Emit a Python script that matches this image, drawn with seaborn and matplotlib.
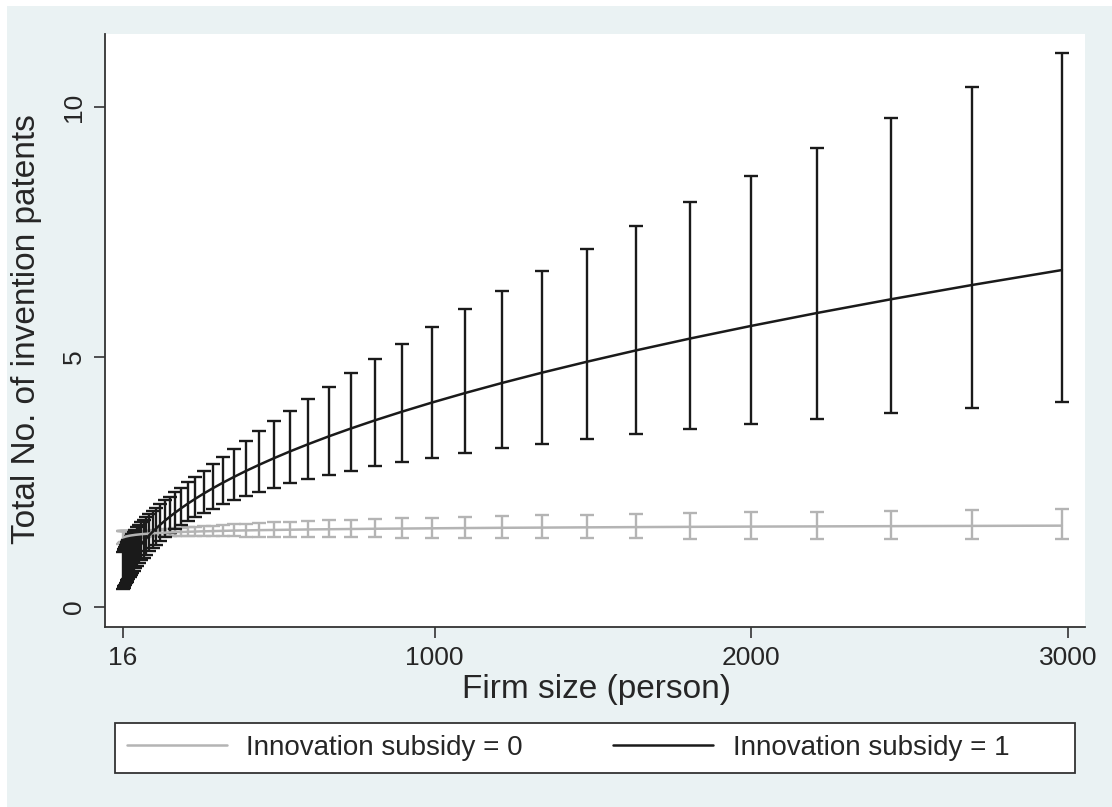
import numpy as np
import pandas as pd
import seaborn as sns
import matplotlib.pyplot as plt
from matplotlib.patches import Rectangle
from matplotlib.lines import Line2D

# firm size grid (persons)
firm_size = [16.4, 18.2, 20.1, 22.2, 24.5, 27.1, 30.0, 33.1, 36.6, 40.4,
             44.7, 49.4, 54.6, 60.3, 66.7, 73.7, 81.5, 90.0, 99.5, 110.0,
             121.5, 134.3, 148.4, 164.0, 181.3, 200.3, 221.4, 244.7, 270.4, 298.9,
             330.3, 365.0, 403.4, 445.9, 492.7, 544.6, 601.8, 665.1, 735.1, 812.4,
             897.8, 992.3, 1096.6, 1212.0, 1339.4, 1480.3, 1636.0, 1808.0, 1998.2, 2208.3,
             2440.6, 2697.3, 2981.0]

# Innovation subsidy = 0 (grey)
sub0_mean = [1.392, 1.396, 1.400, 1.405, 1.409, 1.413, 1.417, 1.421, 1.426, 1.430,
             1.434, 1.438, 1.443, 1.447, 1.451, 1.456, 1.460, 1.464, 1.469, 1.473,
             1.478, 1.482, 1.487, 1.491, 1.496, 1.500, 1.505, 1.509, 1.514, 1.518,
             1.523, 1.528, 1.532, 1.537, 1.541, 1.546, 1.551, 1.555, 1.560, 1.565,
             1.569, 1.574, 1.579, 1.584, 1.588, 1.593, 1.598, 1.603, 1.608, 1.612,
             1.617, 1.622, 1.627]
sub0_upper = [1.529, 1.526, 1.523, 1.522, 1.519, 1.516, 1.514, 1.512, 1.511, 1.509,
              1.507, 1.506, 1.506, 1.506, 1.507, 1.509, 1.512, 1.515, 1.521, 1.527,
              1.535, 1.543, 1.552, 1.562, 1.572, 1.583, 1.594, 1.605, 1.618, 1.629,
              1.642, 1.655, 1.667, 1.680, 1.693, 1.706, 1.720, 1.733, 1.747, 1.761,
              1.775, 1.789, 1.804, 1.819, 1.832, 1.847, 1.862, 1.877, 1.892, 1.907,
              1.922, 1.938, 1.954]
sub0_lower = [1.267, 1.277, 1.287, 1.297, 1.307, 1.317, 1.326, 1.336, 1.346, 1.355,
              1.364, 1.373, 1.382, 1.390, 1.397, 1.404, 1.410, 1.414, 1.419, 1.421,
              1.423, 1.424, 1.424, 1.424, 1.423, 1.422, 1.421, 1.418, 1.417, 1.415,
              1.413, 1.411, 1.408, 1.406, 1.403, 1.401, 1.398, 1.395, 1.393, 1.391,
              1.387, 1.385, 1.382, 1.380, 1.377, 1.374, 1.371, 1.369, 1.366, 1.363,
              1.360, 1.358, 1.355]

# Innovation subsidy = 1 (black)
sub1_mean = [0.636, 0.665, 0.696, 0.729, 0.762, 0.798, 0.835, 0.874, 0.914, 0.957,
             1.001, 1.048, 1.096, 1.147, 1.200, 1.256, 1.315, 1.376, 1.440, 1.506,
             1.576, 1.650, 1.726, 1.806, 1.890, 1.978, 2.070, 2.166, 2.267, 2.372,
             2.482, 2.597, 2.718, 2.844, 2.976, 3.115, 3.259, 3.411, 3.569, 3.735,
             3.908, 4.090, 4.280, 4.479, 4.687, 4.904, 5.132, 5.371, 5.620, 5.881,
             6.154, 6.440, 6.739]
sub1_upper = [1.103, 1.133, 1.165, 1.199, 1.232, 1.268, 1.304, 1.341, 1.379, 1.420,
              1.461, 1.504, 1.548, 1.595, 1.643, 1.694, 1.747, 1.803, 1.861, 1.922,
              1.987, 2.057, 2.131, 2.210, 2.297, 2.390, 2.492, 2.602, 2.724, 2.855,
              2.999, 3.156, 3.326, 3.511, 3.711, 3.927, 4.159, 4.408, 4.675, 4.963,
              5.270, 5.599, 5.951, 6.327, 6.728, 7.156, 7.615, 8.105, 8.626, 9.182,
              9.776, 10.410, 11.086]
sub1_lower = [0.367, 0.390, 0.416, 0.443, 0.471, 0.502, 0.535, 0.569, 0.606, 0.645,
              0.686, 0.730, 0.776, 0.825, 0.877, 0.931, 0.990, 1.050, 1.114, 1.180,
              1.250, 1.323, 1.398, 1.476, 1.555, 1.637, 1.720, 1.803, 1.887, 1.970,
              2.054, 2.137, 2.221, 2.304, 2.387, 2.471, 2.554, 2.639, 2.724, 2.811,
              2.898, 2.988, 3.078, 3.171, 3.265, 3.361, 3.459, 3.559, 3.662, 3.767,
              3.874, 3.984, 4.097]

x_ticks = [16, 1000, 2000, 3000]
y_ticks = [0, 5, 10]
labels = ["Innovation subsidy = 0", "Innovation subsidy = 1"]
colors = ["#b4b4b4", "#1a1a1a"]

sns.set_style("white")
plt.rcParams["font.family"] = ["Liberation Sans", "DejaVu Sans"]

df = pd.DataFrame({
    "size": firm_size * 2,
    "patents": sub0_mean + sub1_mean,
    "group": [labels[0]] * len(firm_size) + [labels[1]] * len(firm_size),
})

fig = plt.figure(figsize=(11.12, 8.07), dpi=100, facecolor="white")
# light blue-grey graph region (white strip at top/left as in the export)
fig.patches.append(Rectangle((7 / 1112, 0), 1 - 7 / 1112, 1 - 6 / 807,
                             transform=fig.transFigure, facecolor="#eaf2f3",
                             edgecolor="none", zorder=-10))
ax = fig.add_axes([105 / 1112, 1 - 627 / 807, 980 / 1112, 593 / 807])
ax.set_facecolor("white")

for mean, lo, hi, col in [(sub0_mean, sub0_lower, sub0_upper, colors[0]),
                          (sub1_mean, sub1_lower, sub1_upper, colors[1])]:
    m = np.array(mean)
    yerr = [m - np.array(lo), np.array(hi) - m]
    ax.errorbar(firm_size, mean, yerr=yerr, fmt="none", ecolor=col,
                elinewidth=1.7, capsize=5.2, capthick=1.7)
    sub = df[df["group"] == labels[colors.index(col)]]
    sns.lineplot(data=sub, x="size", y="patents", color=col, lw=1.8,
                 ax=ax, legend=False, zorder=3)

ax.set_xlim(-40.8, 3054)
ax.set_ylim(-0.40, 11.46)
ax.set_xticks(x_ticks)
ax.set_yticks(y_ticks)
ax.set_xticklabels([str(t) for t in x_ticks], fontsize=19)
ax.set_yticklabels([str(t) for t in y_ticks], fontsize=19, rotation=90, va="center")
ax.tick_params(axis="both", direction="out", length=8, width=1.2,
               color="#333333", pad=6, left=True, bottom=True)

for s in ["top", "right"]:
    ax.spines[s].set_visible(False)
for s in ["left", "bottom"]:
    ax.spines[s].set_color("#333333")
    ax.spines[s].set_linewidth(1.3)

ax.set_xlabel("Firm size (person)", fontsize=24)
ax.set_ylabel("Total No. of invention patents", fontsize=24)
ax.xaxis.set_label_coords(0.502, -0.080)
ax.yaxis.set_label_coords(-0.064, 0.5025)

# legend box
fig.patches.append(Rectangle((115 / 1112, 1 - 773 / 807), 960 / 1112, 50 / 807,
                             transform=fig.transFigure, facecolor="white",
                             edgecolor="#333333", linewidth=1.3, zorder=1))
handles = [Line2D([], [], color=c, lw=1.8) for c in colors]
fig.legend(handles, labels, ncol=2, loc="center left",
           bbox_to_anchor=(127 / 1112, 1 - 748 / 807), frameon=False,
           fontsize=20, handlelength=3.6, handletextpad=0.7,
           columnspacing=3.25, borderpad=0, borderaxespad=0)

fig.savefig("out.png", dpi=100, facecolor=fig.get_facecolor())
